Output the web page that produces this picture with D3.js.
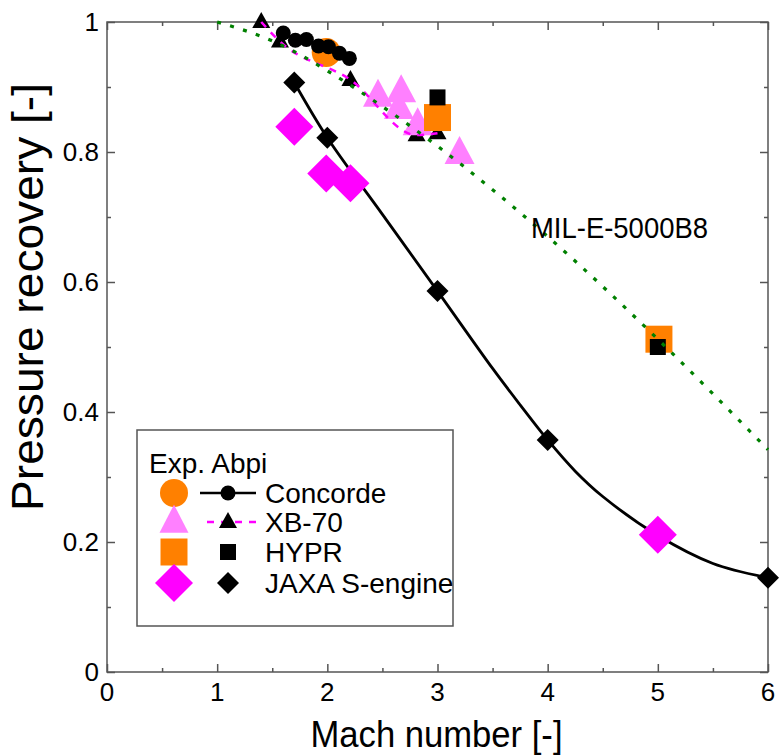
<!DOCTYPE html>
<html><head><meta charset="utf-8">
<script src="https://cdn.jsdelivr.net/npm/d3@7"></script>
<style>body{margin:0;background:#fff;} text{font-family:"Liberation Sans",Arial,sans-serif;}</style>
</head><body>
<svg id="chart" width="782" height="756"></svg>
<script>
// ---- data ----
const xTicks = [0,1,2,3,4,5,6];
const yTicks = [0,0.2,0.4,0.6,0.8,1];
const yTickLabels = ["0","0.2","0.4","0.6","0.8","1"];

// MIL-E-5000B8 reference curve (green dotted)
const milM = [1.0,1.5,2.0,2.5,3.0,3.5,4.0,4.5,5.0,5.5,6.0];
const milP = [1.0,0.971,0.925,0.870,0.809,0.742,0.670,0.593,0.512,0.428,0.342];

// Concorde (black circles + line)
const concordeM = [1.60,1.71,1.81,1.92,2.01,2.11,2.20];
const concordeP = [0.983,0.972,0.973,0.963,0.962,0.952,0.944];
// XB-70 (black triangles + magenta dashed)
const xb70M = [1.40,1.57,2.21,2.81,3.00];
const xb70P = [1.000,0.970,0.911,0.826,0.829];
// HYPR (black squares)
const hyprM = [3.00,5.00];
const hyprP = [0.884,0.500];
// JAXA S-engine (black diamonds)
const jaxaM = [1.70,2.00,3.00,4.00,6.00];
const jaxaP = [0.907,0.822,0.586,0.357,0.145];
// JAXA fitted curve (solid black)
const jaxaFitM = [1.70,2.00,2.50,3.00,3.50,3.75,4.00,4.25,4.50,5.00,5.50,6.00];
const jaxaFitP = [0.907,0.822,0.704,0.586,0.467,0.411,0.357,0.309,0.270,0.210,0.167,0.145];

// Exp. Abpi
const expConcordeM = [1.99];
const expConcordeP = [0.953];
const expXb70M = [2.46,2.67,2.65,2.82,3.20];
const expXb70P = [0.886,0.893,0.867,0.842,0.798];
const expHyprM = [3.00,5.01];
const expHyprP = [0.853,0.512];
const expJaxaM = [1.70,1.99,2.21,5.00];
const expJaxaP = [0.839,0.767,0.752,0.211];

const legendNames = ["Concorde","XB-70","HYPR","JAXA S-engine"];

// ---- drawing ----
const svg = d3.select("#chart");
const L = 107, T = 22, R = 768, B = 672;
const x = d3.scaleLinear().domain([0,6]).range([L,R]);
const y = d3.scaleLinear().domain([0,1]).range([B,T]);
const AX = "#555";

const zip = (a,b) => a.map((v,i)=>[v,b[i]]);

// frame
svg.append("rect").attr("x",L).attr("y",T).attr("width",R-L).attr("height",B-T)
  .attr("fill","none").attr("stroke",AX).attr("stroke-width",1.5);

// axes with inward ticks
function axisTicks(axisGen, transform){
  const g = svg.append("g").attr("transform",transform).call(axisGen);
  g.select(".domain").remove();
  g.selectAll("line").attr("stroke",AX).attr("stroke-width",1.5);
  return g;
}
const minorX = d3.range(0.5,6,1);
const minorY = d3.range(0.1,1,0.2);
axisTicks(d3.axisBottom(x).tickValues(xTicks).tickSize(-8).tickFormat(""), `translate(0,${B})`);
axisTicks(d3.axisBottom(x).tickValues(minorX).tickSize(-4).tickFormat(""), `translate(0,${B})`);
axisTicks(d3.axisTop(x).tickValues(xTicks).tickSize(-8).tickFormat(""), `translate(0,${T})`);
axisTicks(d3.axisTop(x).tickValues(minorX).tickSize(-4).tickFormat(""), `translate(0,${T})`);
axisTicks(d3.axisLeft(y).tickValues(yTicks).tickSize(-8).tickFormat(""), `translate(${L},0)`);
axisTicks(d3.axisLeft(y).tickValues(minorY).tickSize(-4).tickFormat(""), `translate(${L},0)`);
axisTicks(d3.axisRight(y).tickValues(yTicks).tickSize(-8).tickFormat(""), `translate(${R},0)`);
axisTicks(d3.axisRight(y).tickValues(minorY).tickSize(-4).tickFormat(""), `translate(${R},0)`);

// tick labels
svg.append("g").selectAll("text").data(xTicks).join("text")
  .attr("x",d=>x(d)).attr("y",B+29).attr("text-anchor","middle")
  .attr("font-size",26).attr("fill","#000").text(d=>d);
svg.append("g").selectAll("text").data(yTicks).join("text")
  .attr("x",L-8).attr("y",d=>y(d)+9).attr("text-anchor","end")
  .attr("font-size",26).attr("fill","#000").text((d,i)=>yTickLabels[i]);

// axis titles
svg.append("text").attr("x",(L+R)/2-1).attr("y",747).attr("text-anchor","middle")
  .attr("font-size",36).attr("textLength",252).attr("lengthAdjust","spacingAndGlyphs")
  .text("Mach number [-]");
svg.append("text").attr("transform","translate(43,297) rotate(-90)").attr("text-anchor","middle")
  .attr("font-size",44).attr("textLength",428).attr("lengthAdjust","spacingAndGlyphs")
  .text("Pressure recovery [-]");

// symbols
const diamond = h => `M0,${-h}L${h},0L0,${h}L${-h},0Z`;
const triangle = (w,h) => `M0,${-h*0.62}L${w/2},${h*0.38}L${-w/2},${h*0.38}Z`;
const square = s => `M${-s/2},${-s/2}h${s}v${s}h${-s}Z`;

// JAXA fit curve
svg.append("path").datum(zip(jaxaFitM,jaxaFitP))
  .attr("d",d3.line().x(d=>x(d[0])).y(d=>y(d[1])).curve(d3.curveCatmullRom.alpha(0.5)))
  .attr("fill","none").attr("stroke","#000").attr("stroke-width",2.8);
// Concorde line
svg.append("path").datum(zip(concordeM,concordeP))
  .attr("d",d3.line().x(d=>x(d[0])).y(d=>y(d[1]))).attr("fill","none").attr("stroke","#000").attr("stroke-width",2.5);

function markers(M,P,path,fill){
  svg.append("g").selectAll("path").data(zip(M,P)).join("path")
    .attr("transform",d=>`translate(${x(d[0])},${y(d[1])})`).attr("d",path).attr("fill",fill);
}
// black triangles (under exp markers)
markers(xb70M,xb70P,triangle(18,16),"#000");
// exp markers
svg.append("g").selectAll("circle").data(zip(expConcordeM,expConcordeP)).join("circle")
  .attr("cx",d=>x(d[0])).attr("cy",d=>y(d[1])).attr("r",14.5).attr("fill","#FF8000");
markers(expXb70M,expXb70P,triangle(30,28),"#FF80FF");
markers(expHyprM,expHyprP,square(27),"#FF8000");
markers(expJaxaM,expJaxaP,diamond(19),"#FF00FF");
// black markers
svg.append("g").selectAll("circle").data(zip(concordeM,concordeP)).join("circle")
  .attr("cx",d=>x(d[0])).attr("cy",d=>y(d[1])).attr("r",7.5).attr("fill","#000");
markers(hyprM,hyprP,square(16),"#000");
markers(jaxaM,jaxaP,diamond(11),"#000");

// XB-70 dashed line
svg.append("path").datum(zip(xb70M,xb70P))
  .attr("d",d3.line().x(d=>x(d[0])).y(d=>y(d[1])).curve(d3.curveMonotoneX))
  .attr("fill","none").attr("stroke","#FF00FF").attr("stroke-width",2.5).attr("stroke-dasharray","7,7");
// MIL curve
svg.append("path").datum(zip(milM,milP))
  .attr("d",d3.line().x(d=>x(d[0])).y(d=>y(d[1])).curve(d3.curveNatural))
  .attr("fill","none").attr("stroke","#008000").attr("stroke-width",3.2).attr("stroke-dasharray","4,9.5");
svg.append("text").attr("x",531).attr("y",238).attr("font-size",29)
  .attr("textLength",177).attr("lengthAdjust","spacingAndGlyphs").text("MIL-E-5000B8");

// legend
const lg = svg.append("g");
lg.append("rect").attr("x",137).attr("y",430).attr("width",316).attr("height",196)
  .attr("fill","#fff").attr("stroke",AX).attr("stroke-width",1.5);
lg.append("text").attr("x",149).attr("y",473).attr("font-size",28).text("Exp. Abpi");
const rowsY = [493,522,552,583];
const mx = 174, bx = 228;
lg.append("circle").attr("cx",mx).attr("cy",rowsY[0]).attr("r",14).attr("fill","#FF8000");
lg.append("line").attr("x1",200).attr("x2",256).attr("y1",rowsY[0]).attr("y2",rowsY[0]).attr("stroke","#000").attr("stroke-width",2.5);
lg.append("circle").attr("cx",bx).attr("cy",rowsY[0]).attr("r",7.5).attr("fill","#000");
lg.append("path").attr("transform",`translate(${mx},${rowsY[1]})`).attr("d",triangle(29,28)).attr("fill","#FF80FF");
lg.append("line").attr("x1",207).attr("x2",257).attr("y1",rowsY[1]).attr("y2",rowsY[1]).attr("stroke","#FF00FF").attr("stroke-width",2.5).attr("stroke-dasharray","7,7");
lg.append("path").attr("transform",`translate(${bx},${rowsY[1]})`).attr("d",triangle(18,16)).attr("fill","#000");
lg.append("path").attr("transform",`translate(${mx},${rowsY[2]})`).attr("d",square(27)).attr("fill","#FF8000");
lg.append("path").attr("transform",`translate(${bx},${rowsY[2]})`).attr("d",square(16)).attr("fill","#000");
lg.append("path").attr("transform",`translate(${mx},${rowsY[3]})`).attr("d",diamond(19)).attr("fill","#FF00FF");
lg.append("path").attr("transform",`translate(${bx},${rowsY[3]})`).attr("d",diamond(11)).attr("fill","#000");
lg.selectAll("text.nm").data(legendNames).join("text").attr("class","nm")
  .attr("x",265).attr("y",(d,i)=>rowsY[i]+10).attr("font-size",28).text(d=>d);
</script>
</body></html>
